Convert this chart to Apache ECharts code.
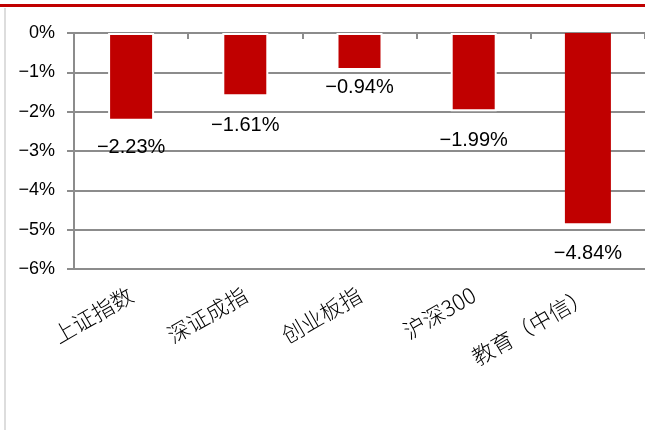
<!DOCTYPE html>
<html><head><meta charset="utf-8">
<script src="https://cdn.jsdelivr.net/npm/echarts@6/dist/echarts.min.js"></script>
<style>html,body{margin:0;padding:0;background:#fff}#c{width:645px;height:430px}</style>
</head><body><div id="c"></div>
<script>
const categories = ['上证指数', '深证成指', '创业板指', '沪深300', '教育（中信）'];
const values = [-2.23, -1.61, -0.94, -1.99, -4.84];
const yTicks = [0, -1, -2, -3, -4, -5, -6];
const labelDistance = [17, 19, 8, 19, 20];

const chart = echarts.init(document.getElementById('c'), null, {renderer: 'canvas'});
const fmtPct = v => (v < 0 ? '\u2212' : '') + Math.abs(v) + '%';
chart.setOption({
  animation: false,
  backgroundColor: '#fff',
  graphic: [
    {type: 'rect', shape: {x: 0, y: 4, width: 645, height: 3}, style: {fill: '#C00000'}},
    {type: 'rect', shape: {x: 4, y: 8, width: 2, height: 422}, style: {fill: '#DDDDDD'}}
  ],
  grid: {left: 74, right: -3, top: 33, bottom: 161, containLabel: false},
  xAxis: [
    {type: 'category', data: categories, position: 'bottom',
     axisLine: {show: false}, axisTick: {show: false},
     axisLabel: {rotate: 30, margin: 24, fontSize: 22, color: '#000',
       fontFamily: 'Noto Sans CJK SC', fontWeight: 300, interval: 0}},
    {type: 'category', data: categories, position: 'top',
     axisLine: {show: true, lineStyle: {color: '#8C8C8C', width: 2}},
     axisTick: {show: true, inside: true, length: 6, lineStyle: {color: '#8C8C8C', width: 2}},
     axisLabel: {show: false}}
  ],
  yAxis: {
    type: 'value', min: -6, max: 0, interval: 1,
    axisLine: {show: true, lineStyle: {color: '#8C8C8C', width: 2}},
    axisTick: {show: true, length: 7, lineStyle: {color: '#8C8C8C', width: 2}},
    splitLine: {show: true, lineStyle: {color: '#8C8C8C', width: 2}},
    axisLabel: {fontSize: 18, color: '#000', margin: 19, fontFamily: 'Liberation Sans',
      formatter: v => yTicks.includes(v) ? fmtPct(v) : ''}
  },
  series: [{
    type: 'bar', xAxisIndex: 0, barWidth: 46,
    data: values.map((v, i) => ({
      value: v,
      itemStyle: i < 4 ? {borderColor: '#fff', borderWidth: 2} : {},
      label: {distance: labelDistance[i]}
    })),
    itemStyle: {color: '#C00000'},
    label: {show: true, position: 'bottom', fontSize: 20, color: '#000',
      fontFamily: 'Liberation Sans',
      formatter: p => fmtPct(p.value.toFixed(2))}
  }]
});
</script></body></html>
